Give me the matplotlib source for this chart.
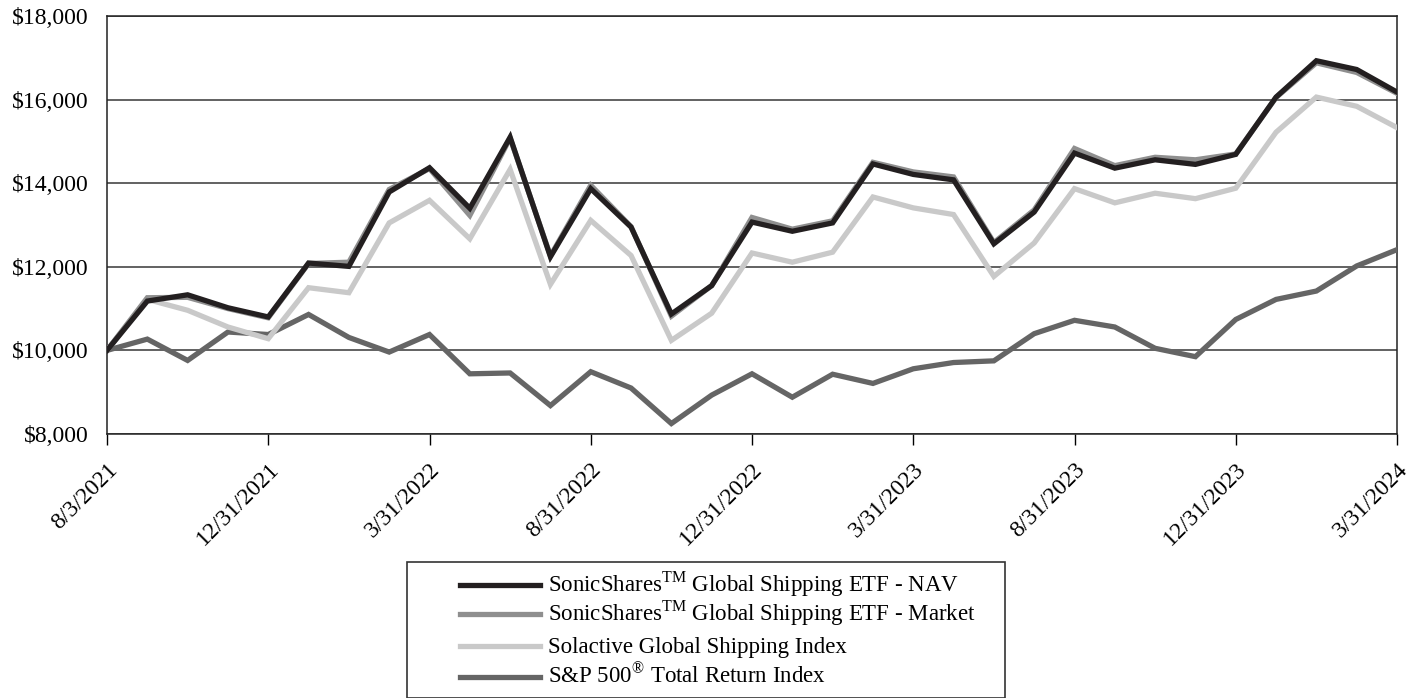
import numpy as np
import matplotlib
matplotlib.use('Agg')
import matplotlib.pyplot as plt
from matplotlib.patches import Rectangle
from matplotlib.lines import Line2D

plt.rcParams['font.family'] = ['Liberation Serif', 'DejaVu Serif']
plt.rcParams['mathtext.fontset'] = 'custom'
plt.rcParams['mathtext.rm'] = 'Liberation Serif'

# Dados (valor de um investimento de $10.000)
datas = ['8/3/2021', '12/31/2021', '3/31/2022', '8/31/2022', '12/31/2022',
         '3/31/2023', '8/31/2023', '12/31/2023', '3/31/2024']

nav = [10000, 11180, 11330, 11020, 10800, 12090, 12010, 13790, 14370,
       13400, 15100, 12240, 13870, 12950, 10870, 11550, 13070,
       12850, 13050, 14460, 14210, 14080, 12550, 13310, 14720,
       14360, 14560, 14450, 14690, 16060, 16930, 16720, 16180]

market = [10000, 11260, 11270, 11000, 10780, 12080, 12110, 13850, 14350,
          13230, 15080, 12260, 13950, 12960, 10820, 11550, 13180,
          12900, 13100, 14500, 14270, 14150, 12580, 13360, 14830,
          14420, 14620, 14560, 14700, 16050, 16880, 16650, 16150]

solactive = [10000, 11220, 10960, 10560, 10280, 11500, 11380, 13050, 13590,
             12670, 14330, 11580, 13110, 12270, 10240, 10890, 12330,
             12110, 12350, 13670, 13410, 13250, 11770, 12570, 13870,
             13530, 13760, 13630, 13880, 15220, 16060, 15840, 15330]

sp500 = [10000, 10270, 9760, 10440, 10380, 10860, 10310, 9960, 10380,
         9440, 9460, 8680, 9490, 9100, 8250, 8930, 9440,
         8880, 9430, 9210, 9560, 9710, 9750, 10400, 10720,
         10560, 10050, 9850, 10740, 11220, 11420, 12020, 12410]

nomes = ['SonicShares$^{\\mathrm{TM}}$ Global Shipping ETF - NAV',
         'SonicShares$^{\\mathrm{TM}}$ Global Shipping ETF - Market',
         'Solactive Global Shipping Index',
         'S&P 500$^{\\mathrm{\u00ae}}$ Total Return Index']
valores = [nav, market, solactive, sp500]
cores = ['#231f20', '#8f8f8f', '#c9c9c9', '#656565']

W, H = 1419, 698
fig = plt.figure(figsize=(W / 100, H / 100), dpi=100)
ax = fig.add_axes([107 / W, 1 - 434 / H, 1290 / W, 418 / H])

x = np.arange(len(nav))
# S&P embaixo, NAV por cima
for i in [3, 2, 1, 0]:
    ax.plot(x, valores[i], color=cores[i], linewidth=3.8,
            solid_joinstyle='miter', zorder=3)

ax.set_xlim(0, len(nav) - 1)
ax.set_ylim(8000, 18000)
yt = np.arange(8000, 18001, 2000)
ax.set_yticks(yt)
ax.set_yticklabels([f'${v:,.0f}' for v in yt])
ax.tick_params(axis='y', length=0, pad=13, labelsize=17)
ax.yaxis.grid(True, color='#555555', linewidth=1.3)
ax.set_axisbelow(True)

ax.set_xticks(x[::4])
ax.set_xticklabels(datas, rotation=45, ha='right', va='top', rotation_mode='anchor')
ax.tick_params(axis='x', length=8, width=1, direction='out', pad=10, labelsize=17)

for s in ax.spines.values():
    s.set_linewidth(1.1)
    s.set_color('#222222')

# Legenda desenhada a mao dentro de uma caixa
fig.patches.append(Rectangle((407 / W, 0.0), 598 / W, 136 / H,
                             transform=fig.transFigure, fill=False,
                             edgecolor='#333333', linewidth=1.2))

linhas_y = [585, 614, 646, 677]
for nome, cor, yy in zip(nomes, cores, linhas_y):
    fig.add_artist(Line2D([460 / W, 540 / W], [1 - yy / H, 1 - yy / H],
                          color=cor, linewidth=3.8, transform=fig.transFigure))
    fig.text(548 / W, 1 - (yy + 6.5) / H, nome, fontsize=16.5,
             ha='left', va='baseline')

plt.savefig('out.png', dpi=100)
